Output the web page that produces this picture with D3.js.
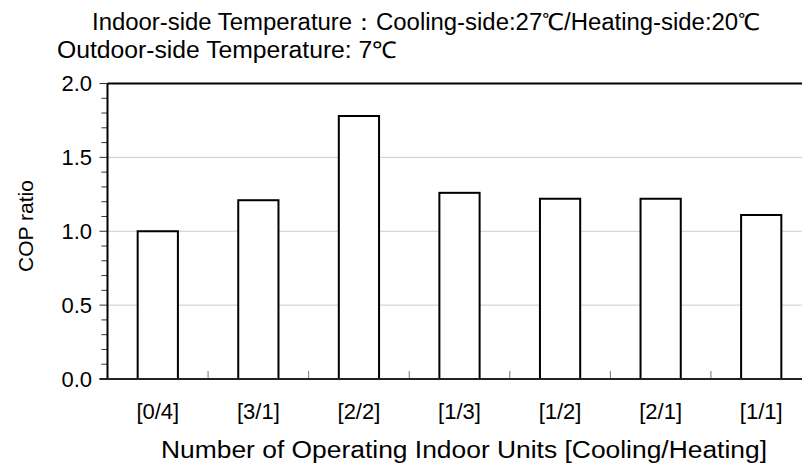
<!DOCTYPE html>
<html><head><meta charset="utf-8">
<script src="https://cdn.jsdelivr.net/npm/d3@7"></script>
<style>body{margin:0;background:#fff;overflow:hidden}svg{display:block}text{font-family:"Liberation Sans",Arial,sans-serif;fill:#000}</style>
</head><body>
<script>
const categories = ["[0/4]","[3/1]","[2/2]","[1/3]","[1/2]","[2/1]","[1/1]"];
const copRatio = [1.00, 1.21, 1.78, 1.26, 1.22, 1.22, 1.11];
const yTicks = [0, 0.5, 1.0, 1.5, 2.0];
const titleLines = ["Indoor-side Temperature：Cooling-side:27℃/Heating-side:20℃", "Outdoor-side Temperature: 7℃"];
const xTitle = "Number of Operating Indoor Units [Cooling/Heating]";
const yTitle = "COP ratio";

const W = 802, H = 464;
const m = {left:107.5, right:811.5, top:83.5, bottom:379};
const svg = d3.select("body").append("svg").attr("width", W).attr("height", H);

const x = d3.scaleBand().domain(categories).range([m.left, m.right]).paddingInner(0.6).paddingOuter(0.3);
const xb = d3.scaleBand().domain(categories).range([m.left, m.right]);
const y = d3.scaleLinear().domain([0, 2]).range([m.bottom, m.top]);

// grid
svg.append("g").selectAll("line").data(yTicks.filter(d => d > 0 && d < 2)).join("line")
  .attr("x1", m.left).attr("x2", m.right).attr("y1", d => y(d)).attr("y2", d => y(d))
  .attr("stroke", "#9a9a9a").attr("stroke-width", 1).attr("stroke-dasharray", "1,1");

// minor y ticks
const minor = d3.range(0, 21).map(i => i / 10);
svg.append("g").selectAll("line").data(minor).join("line")
  .attr("x1", d => (Math.round(d*10) % 5 === 0) ? m.left - 8 : m.left - 6).attr("x2", m.left)
  .attr("y1", d => y(d)).attr("y2", d => y(d)).attr("stroke", "#333").attr("stroke-width", 1);

// x separators ticks
svg.append("g").selectAll("line").data(categories.slice(1)).join("line")
  .attr("x1", d => xb(d)).attr("x2", d => xb(d)).attr("y1", m.bottom).attr("y2", m.bottom - 8)
  .attr("stroke", "#777").attr("stroke-width", 1);

// bars
svg.append("g").selectAll("rect").data(copRatio).join("rect")
  .attr("x", (d, i) => x(categories[i])).attr("width", x.bandwidth())
  .attr("y", d => y(d)).attr("height", d => y(0) - y(d))
  .attr("fill", "#fff").attr("stroke", "#000").attr("stroke-width", 2);

// frame
svg.append("line").attr("x1", m.left).attr("x2", m.right).attr("y1", m.top).attr("y2", m.top).attr("stroke", "#000").attr("stroke-width", 2);
svg.append("line").attr("x1", m.left).attr("x2", m.left).attr("y1", m.top).attr("y2", m.bottom).attr("stroke", "#000").attr("stroke-width", 2);
svg.append("line").attr("x1", m.left - 8).attr("x2", m.right).attr("y1", m.bottom).attr("y2", m.bottom).attr("stroke", "#222").attr("stroke-width", 2);

// y tick labels
svg.append("g").selectAll("text").data(yTicks).join("text")
  .attr("x", 92).attr("y", d => y(d)).attr("dy", "0.36em").attr("text-anchor", "end")
  .attr("font-size", 22).text(d => d.toFixed(1));

// x tick labels
svg.append("g").selectAll("text").data(categories).join("text")
  .attr("x", d => xb(d) + xb.bandwidth() / 2).attr("y", 419).attr("text-anchor", "middle")
  .attr("font-size", 22).text(d => d);

// titles
svg.append("text").attr("x", 92).attr("y", 30).attr("font-size", 23)
  .attr("textLength", 668).attr("lengthAdjust", "spacingAndGlyphs").text(titleLines[0]);
svg.append("text").attr("x", 57).attr("y", 58).attr("font-size", 23)
  .attr("textLength", 340).attr("lengthAdjust", "spacingAndGlyphs").text(titleLines[1]);
svg.append("text").attr("x", 161).attr("y", 458).attr("font-size", 23)
  .attr("textLength", 606).attr("lengthAdjust", "spacingAndGlyphs").text(xTitle);
svg.append("text").attr("transform", "translate(33,226) rotate(-90)").attr("text-anchor", "middle").attr("font-size", 21).text(yTitle);
</script>
</body></html>
